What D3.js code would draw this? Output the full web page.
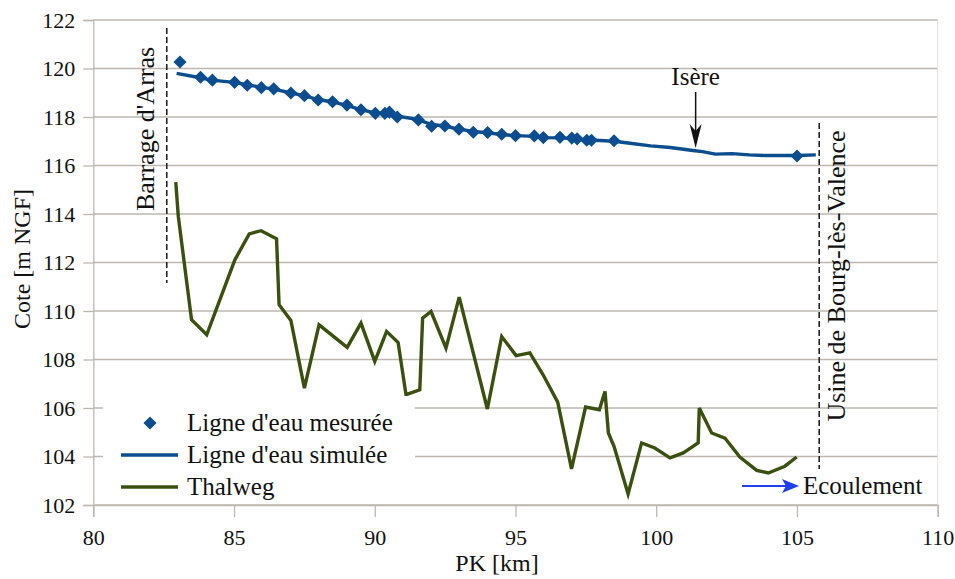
<!DOCTYPE html>
<html><head><meta charset="utf-8">
<script src="https://cdn.jsdelivr.net/npm/d3@7"></script>
<style>
html,body{margin:0;padding:0;background:#fff;}
svg text{font-family:"Liberation Serif","Times New Roman",serif;fill:#111;}
</style></head>
<body><svg id="c" width="955" height="579"></svg>
<script>
const xTicks = [80, 85, 90, 95, 100, 105, 110];
const yTicks = [102, 104, 106, 108, 110, 112, 114, 116, 118, 120, 122];

const measuredPK   = [83.08, 83.81, 84.23, 85.02, 85.47, 85.97, 86.41, 87.02, 87.5, 87.99, 88.5, 89.01, 89.51, 90.02, 90.36, 90.52, 90.8, 91.55, 92.02, 92.49, 92.99, 93.5, 94.01, 94.51, 95.0, 95.67, 95.99, 96.58, 97.0, 97.19, 97.53, 97.7, 98.5, 105.0];
const measuredCote = [120.27, 119.64, 119.52, 119.43, 119.31, 119.21, 119.16, 118.99, 118.88, 118.7, 118.63, 118.49, 118.3, 118.15, 118.15, 118.2, 118.0, 117.88, 117.62, 117.63, 117.5, 117.37, 117.36, 117.29, 117.23, 117.22, 117.15, 117.16, 117.13, 117.1, 117.04, 117.04, 117.02, 116.39];

const simulatedPK   = [82.96, 83.8, 84.2, 85.0, 85.5, 86.0, 86.4, 87.0, 87.5, 88.0, 88.5, 89.0, 89.5, 90.0, 90.5, 91.0, 91.5, 92.0, 92.5, 93.0, 93.5, 94.0, 94.5, 95.0, 95.7, 96.0, 96.6, 97.0, 97.5, 98.0, 98.5, 99.0, 99.8, 100.5, 101.3, 101.64, 102.1, 102.7, 103.3, 103.9, 105.0, 105.67];
const simulatedCote = [119.8, 119.62, 119.52, 119.43, 119.32, 119.22, 119.15, 119.0, 118.87, 118.72, 118.62, 118.48, 118.3, 118.17, 118.12, 118.0, 117.9, 117.7, 117.62, 117.5, 117.4, 117.35, 117.28, 117.23, 117.2, 117.15, 117.14, 117.11, 117.05, 117.03, 117.0, 116.93, 116.81, 116.74, 116.62, 116.57, 116.47, 116.49, 116.44, 116.41, 116.41, 116.44];

const thalwegPK   = [82.93, 83.02, 83.49, 84.03, 85.03, 85.54, 85.96, 86.51, 86.6, 87.02, 87.5, 88.02, 89.02, 89.51, 90.0, 90.42, 90.83, 91.11, 91.6, 91.7, 92.0, 92.53, 93.0, 94.0, 94.51, 95.02, 95.51, 95.98, 96.5, 96.99, 97.49, 97.98, 98.18, 98.3, 98.5, 99.0, 99.48, 99.95, 100.49, 100.96, 101.49, 101.53, 101.97, 102.44, 102.97, 103.57, 103.98, 104.57, 104.99];
const thalwegCote = [115.31, 113.9, 109.64, 109.02, 112.11, 113.18, 113.31, 112.98, 110.26, 109.61, 106.82, 109.43, 108.5, 109.5, 107.92, 109.16, 108.7, 106.55, 106.75, 109.71, 109.98, 108.47, 110.57, 105.96, 108.95, 108.16, 108.27, 107.37, 106.24, 103.49, 106.04, 105.93, 106.68, 104.97, 104.42, 102.46, 104.56, 104.35, 103.94, 104.15, 104.56, 106.0, 104.97, 104.76, 103.98, 103.43, 103.32, 103.6, 103.98];

const legendLabels = ["Ligne d'eau mesurée", "Ligne d'eau simulée", "Thalweg"];

const blue = "#0b4d8f", olive = "#3b5010", grid = "#bdb7b0";
const serif = "'Liberation Serif', 'Times New Roman', serif";
const svg = d3.select("#c");
const x = d3.scaleLinear().domain([80, 110]).range([93.3, 937.7]);
const y = d3.scaleLinear().domain([102, 122]).range([505, 20]);

// gridlines
svg.append("g").selectAll("line").data(yTicks).join("line")
  .attr("x1", x(80)).attr("x2", x(110))
  .attr("y1", d => y(d)).attr("y2", d => y(d))
  .attr("stroke", grid).attr("stroke-width", 1.3);
svg.append("line").attr("x1", x(110)).attr("x2", x(110)).attr("y1", y(122)).attr("y2", y(102))
  .attr("stroke", "#e4e1de").attr("stroke-width", 1);

// axes
const ax = svg.append("g").attr("transform", `translate(0,${y(102)})`)
  .call(d3.axisBottom(x).tickValues(xTicks).tickSize(12).tickPadding(12).tickFormat(d3.format("d")));
const ay = svg.append("g").attr("transform", `translate(${x(80)},0)`)
  .call(d3.axisLeft(y).tickValues(yTicks).tickSize(10).tickPadding(8).tickFormat(d3.format("d")));
[ax, ay].forEach(g => {
  g.attr("font-family", serif).attr("font-size", 22);
  g.selectAll("path.domain").attr("stroke", grid).attr("stroke-width", 1.3);
  g.selectAll(".tick line").attr("stroke", grid).attr("stroke-width", 1.3);
  g.selectAll(".tick text").style("font-family", serif).style("font-size", "22px").attr("fill", "#111");
});

// axis titles
svg.append("text").attr("x", 497).attr("y", 571).attr("text-anchor", "middle")
  .style("font-size", "24px").text("PK [km]");
svg.append("text").attr("transform", "translate(30,259) rotate(-90)").attr("text-anchor", "middle")
  .style("font-size", "24px").text("Cote [m NGF]");

// thalweg
const thal = thalwegPK.map((p, i) => [p, thalwegCote[i]]);
svg.append("path").datum(thal)
  .attr("d", d3.line().x(d => x(d[0])).y(d => y(d[1])))
  .attr("fill", "none").attr("stroke", olive).attr("stroke-width", 3.4).attr("stroke-linejoin", "miter");

// simulated
const sim = simulatedPK.map((p, i) => [p, simulatedCote[i]]);
svg.append("path").datum(sim)
  .attr("d", d3.line().x(d => x(d[0])).y(d => y(d[1])))
  .attr("fill", "none").attr("stroke", blue).attr("stroke-width", 3.4);

// measured
const diamond = d3.symbol().type(d3.symbolDiamond2).size(110);
svg.append("g").selectAll("path").data(measuredPK.map((p, i) => [p, measuredCote[i]])).join("path")
  .attr("transform", d => `translate(${x(d[0])},${y(d[1])})`)
  .attr("d", diamond).attr("fill", blue);

// annotation dashed lines
function dashV(px, y1, y2) {
  svg.append("line").attr("x1", x(px)).attr("x2", x(px)).attr("y1", y1).attr("y2", y2)
    .attr("stroke", "#222").attr("stroke-width", 1.6).attr("stroke-dasharray", "6,3");
}
dashV(82.61, 28, 283);
dashV(105.79, 123, 469);
svg.append("text").attr("transform", `translate(154,${129}) rotate(-90)`).attr("text-anchor", "middle")
  .style("font-size", "26px").text("Barrage d'Arras");
svg.append("text").attr("transform", `translate(845,${276}) rotate(-90)`).attr("text-anchor", "middle")
  .style("font-size", "26px").text("Usine de Bourg-lès-Valence");

// Isère arrow
svg.append("text").attr("x", x(101.4)).attr("y", 85).attr("text-anchor", "middle")
  .style("font-size", "25px").text("Isère");
svg.append("line").attr("x1", x(101.4)).attr("x2", x(101.4)).attr("y1", 92).attr("y2", 135)
  .attr("stroke", "#111").attr("stroke-width", 1.5);
svg.append("path").attr("d", `M${x(101.4) - 6},${124} L${x(101.4)},${148} L${x(101.4) + 6},${124} L${x(101.4)},${131} Z`)
  .attr("fill", "#111");

// Ecoulement
svg.append("line").attr("x1", 742).attr("x2", 786).attr("y1", 486).attr("y2", 486)
  .attr("stroke", "#1f3ff0").attr("stroke-width", 2);
svg.append("path").attr("d", "M782,479 L799,486 L782,493 L786,486 Z").attr("fill", "#1f3ff0");
svg.append("text").attr("x", 803).attr("y", 494).style("font-size", "25px").text("Ecoulement");

// legend
const lg = svg.append("g");
lg.append("rect").attr("x", 103).attr("y", 396).attr("width", 312).attr("height", 107).attr("fill", "#fff");
lg.append("path").attr("transform", "translate(150,423)").attr("d", d3.symbol().type(d3.symbolDiamond2).size(110)).attr("fill", blue);
lg.append("line").attr("x1", 121).attr("x2", 178).attr("y1", 455).attr("y2", 455).attr("stroke", blue).attr("stroke-width", 3.4);
lg.append("line").attr("x1", 121).attr("x2", 178).attr("y1", 487).attr("y2", 487).attr("stroke", olive).attr("stroke-width", 3.4);
lg.selectAll("text").data(legendLabels).join("text")
  .attr("x", 187).attr("y", (d, i) => 431 + i * 32).style("font-size", "25px").text(d => d);
</script></body></html>
